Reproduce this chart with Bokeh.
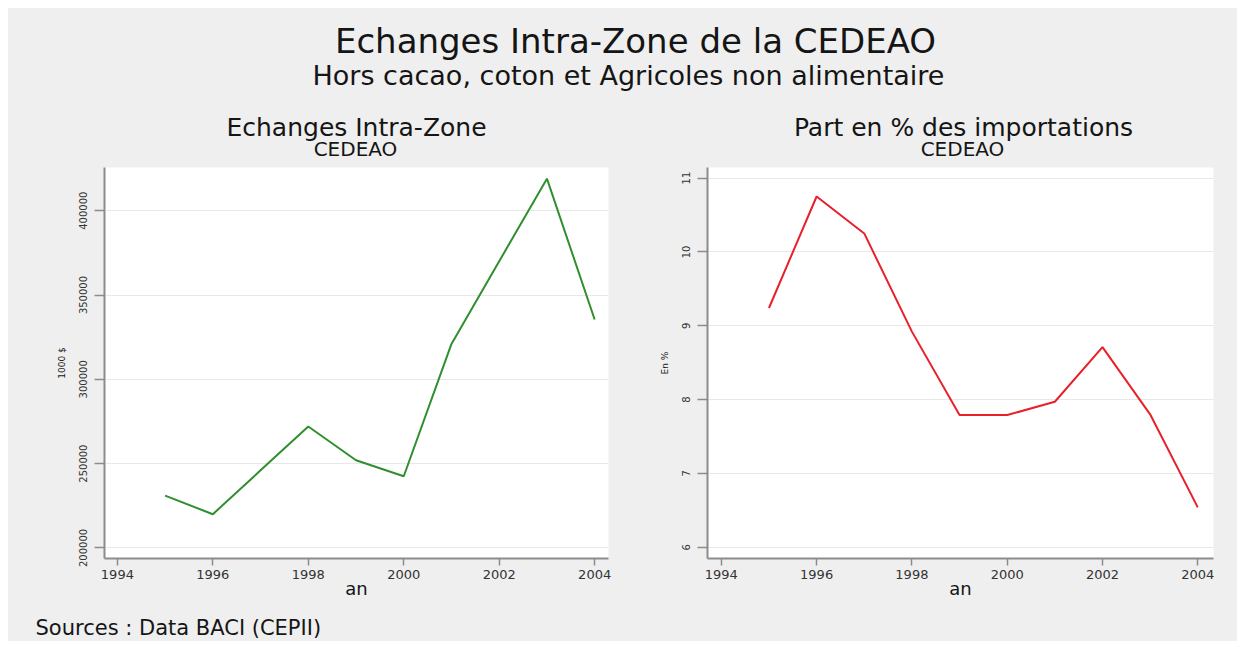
from bokeh.plotting import figure
from bokeh.models import Range1d, FixedTicker
from bokeh.layouts import column, row
from bokeh.embed import file_html
from bokeh.resources import INLINE
from bokeh.core.properties import value

# ---------------- data ----------------
years = [1995, 1996, 1997, 1998, 1999, 2000, 2001, 2002, 2003, 2004]
echanges = [231000, 220000, 246000, 272000, 252000, 242500, 321000, 370000, 419000, 335500]
part_pct = [9.24, 10.75, 10.25, 8.92, 7.79, 7.79, 7.97, 8.71, 7.80, 6.54]

x_ticks = [1994, 1996, 1998, 2000, 2002, 2004]
left_y_ticks = [200000, 250000, 300000, 350000, 400000]
left_y_labels = ["200000", "250000", "300000", "350000", "400000"]
right_y_ticks = [6, 7, 8, 9, 10, 11]

main_title = "Echanges Intra-Zone de la CEDEAO"
main_subtitle = "Hors cacao, coton et Agricoles non alimentaire"
left_title = "Echanges Intra-Zone"
right_title = "Part en % des importations"
zone = "CEDEAO"
x_label = "an"
left_y_label = "1000 $"
right_y_label = "En %"
source_note = "Sources : Data BACI (CEPII)"

BG = "#efefef"
FONT = "DejaVu Sans"
TXT = "#151515"
AXIS = "#8c8c8c"


def blank(width, height):
    p = figure(width=width, height=height, x_range=Range1d(0, width), y_range=Range1d(height, 0),
               x_axis_type=None, y_axis_type=None, toolbar_location=None, output_backend="svg",
               min_border=0, background_fill_color=BG, border_fill_color=BG, outline_line_color=None)
    p.grid.visible = False
    return p


def put(p, x, y, txt, size, align="center"):
    p.text(x=[x], y=[y], text=[txt], text_font=value(FONT), text_font_size=size,
           text_align=align, text_baseline="middle", text_color=TXT)


# header (y = vertical middle of the text, in pixels from the header's top)
head = blank(1229, 152)
put(head, 627, 32, main_title, "34px")
put(head, 620, 67, main_subtitle, "27px")
put(head, 348, 119, left_title, "25px")
put(head, 347, 140, zone, "20px")
put(head, 955, 119, right_title, "25px")
put(head, 954, 140, zone, "20px")


def make_plot(x, y, color, ylab, yticks, ylabels, yrange, xrange, fw, bl, br):
    p = figure(frame_width=fw, frame_height=391, min_border_left=bl, min_border_right=br,
               min_border_top=7, min_border_bottom=48,
               x_range=Range1d(*xrange), y_range=Range1d(*yrange),
               toolbar_location=None, output_backend="svg",
               background_fill_color="white", border_fill_color=BG, outline_line_color=None)
    p.line(x, y, line_color=color, line_width=2)
    p.xgrid.visible = False
    p.ygrid.ticker = FixedTicker(ticks=yticks)
    p.ygrid.grid_line_color = "#e8e8e8"
    p.ygrid.grid_line_width = 1

    xa = p.xaxis[0]
    xa.ticker = FixedTicker(ticks=x_ticks)
    xa.axis_label = x_label
    xa.axis_label_text_font = FONT
    xa.axis_label_text_font_style = "normal"
    xa.axis_label_text_font_size = "18px"
    xa.axis_label_text_color = TXT
    xa.axis_label_standoff = -4
    xa.major_label_text_font = FONT
    xa.major_label_text_font_size = "13px"
    xa.major_label_text_color = "#333333"
    xa.major_label_standoff = 4
    xa.major_tick_out = 7
    xa.major_tick_in = 0
    xa.minor_tick_line_color = None

    ya = p.yaxis[0]
    ya.ticker = FixedTicker(ticks=yticks)
    if ylabels is not None:
        ya.major_label_overrides = {t: l for t, l in zip(yticks, ylabels)}
    ya.axis_label = ylab
    ya.axis_label_text_font = FONT
    ya.axis_label_text_font_style = "normal"
    ya.axis_label_text_font_size = "9px"
    ya.axis_label_text_color = TXT
    ya.axis_label_standoff = 10
    ya.major_label_orientation = "vertical"
    ya.major_label_text_font = FONT
    ya.major_label_text_font_size = "10px"
    ya.major_label_text_color = "#333333"
    ya.major_label_standoff = 7
    ya.major_tick_out = 10
    ya.major_tick_in = 0
    ya.minor_tick_line_color = None

    for a in (xa, ya):
        a.axis_line_color = AXIS
        a.axis_line_width = 2
        a.major_tick_line_color = AXIS
        a.major_tick_line_width = 1.5
    return p


left = make_plot(years, echanges, "#2f8f2f", left_y_label, left_y_ticks, left_y_labels,
                 (193720, 425640), (1993.73, 2004.29), 504, 96, 32)
right = make_plot(years, part_pct, "#e8202a", right_y_label, right_y_ticks, None,
                  (5.847, 11.143), (1993.71, 2004.33), 506, 67, 24)

foot = blank(1229, 35)
put(foot, 27, 21, source_note, "21px", align="left")

layout = column(head, row(left, right, spacing=0, styles={"background-color": BG}), foot,
                spacing=0, margin=(8, 8, 8, 8), styles={"background-color": BG})

with open("out.html", "w") as f:
    f.write(file_html(layout, INLINE))
